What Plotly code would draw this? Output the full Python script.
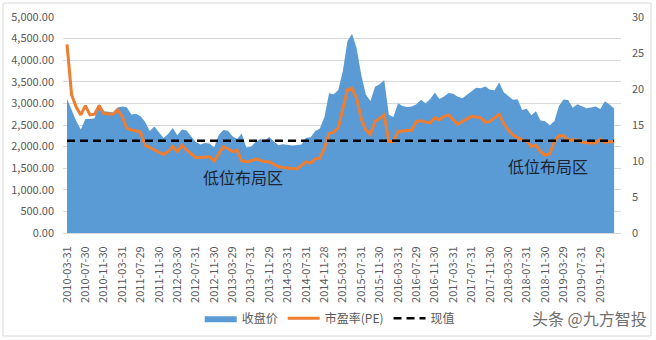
import numpy as np
import plotly.graph_objects as go

# Monthly closes, 2010-03 .. 2020-02
close_price = [
    3109, 2871, 2592, 2398, 2638, 2639, 2656, 2979, 2820, 2808,
    2791, 2905, 2928, 2912, 2743, 2762, 2702, 2567, 2359, 2468, 2333, 2199,
    2293, 2428, 2263, 2396, 2372, 2225, 2104, 2048, 2086, 2069, 1980, 2269,
    2385, 2366, 2237, 2178, 2301, 1979, 1994, 2098, 2175, 2142, 2221, 2116,
    2033, 2056, 2033, 2026, 2039, 2048, 2202, 2217, 2364, 2420, 2683, 3235,
    3210, 3310, 3748, 4442, 4612, 4277, 3664, 3206, 3053, 3383, 3445, 3539,
    2738, 2688, 3004, 2938, 2917, 2930, 2979, 3085, 3005, 3100, 3250, 3104,
    3159, 3242, 3223, 3155, 3117, 3192, 3273, 3361, 3349, 3393, 3317, 3307,
    3481, 3259, 3169, 3082, 3095, 2847, 2876, 2725, 2821, 2603, 2588, 2494,
    2585, 2941, 3091, 3078, 2899, 2979, 2933, 2886, 2905, 2929, 2872, 3050,
    2977, 2880,
]

# Price-to-earnings ratio for the same months
pe_ratio = [
    26.2, 19.2, 17.5, 16.4, 17.7, 16.4, 16.5, 17.7, 16.6, 16.6,
    16.5, 17.1, 16.2, 14.6, 14.3, 14.2, 14.0, 12.2, 11.9, 11.6, 11.2, 10.9,
    11.3, 12.0, 11.3, 12.2, 11.5, 11.0, 10.5, 10.5, 10.5, 10.6, 10.0, 11.0,
    12.0, 11.7, 11.3, 11.5, 10.0, 9.9, 10.0, 10.3, 10.1, 9.9, 9.9, 9.5,
    9.2, 9.1, 9.0, 8.9, 8.9, 9.4, 9.9, 9.7, 10.3, 10.4, 11.8, 13.8,
    14.0, 14.6, 17.3, 19.9, 20.1, 18.7, 15.9, 14.3, 13.7, 15.5, 15.9, 16.4,
    12.7, 12.7, 14.1, 14.2, 14.2, 14.3, 15.5, 15.6, 15.4, 15.3, 16.0, 15.7,
    16.2, 16.4, 15.7, 15.1, 15.5, 15.8, 16.2, 16.1, 16.0, 15.4, 15.5, 16.0,
    16.5, 15.2, 14.3, 13.6, 13.2, 12.9, 12.8, 12.0, 12.2, 11.3, 10.8, 11.0,
    12.7, 13.5, 13.5, 12.9, 12.9, 12.9, 12.6, 12.5, 12.5, 12.5, 13.0, 12.6,
    12.7, 12.7,
]

current_pe = 12.8

tick_labels = [
    "2010-03-31", "2010-07-30", "2010-11-30", "2011-03-31", "2011-07-29",
    "2011-11-30", "2012-03-30", "2012-07-31", "2012-11-30", "2013-03-29",
    "2013-07-31", "2013-11-29", "2014-03-31", "2014-07-31", "2014-11-28",
    "2015-03-31", "2015-07-31", "2015-11-30", "2016-03-31", "2016-07-29",
    "2016-11-30", "2017-03-31", "2017-07-31", "2017-11-30", "2018-03-30",
    "2018-07-31", "2018-11-30", "2019-03-29", "2019-07-31", "2019-11-29",
]
tick_step = 4

series_names = ["收盘价", "市盈率(PE)", "现值"]
zone_label = "低位布局区"

x = np.arange(len(close_price))
tick_pos = x[::tick_step][: len(tick_labels)]

FONT = "Noto Sans CJK SC, Noto Sans, sans-serif"
GREY = "#595959"

fig = go.Figure()

fig.add_trace(go.Scatter(
    x=x, y=close_price, name=series_names[0], mode="lines",
    fill="tozeroy", fillcolor="#5B9BD5",
    line=dict(width=0, color="#5B9BD5"),
    yaxis="y",
))
fig.add_trace(go.Scatter(
    x=x, y=pe_ratio, name=series_names[1], mode="lines",
    line=dict(width=3, color="#ED7D31"),
    yaxis="y2",
))
fig.add_trace(go.Scatter(
    x=x, y=[current_pe] * len(x), name=series_names[2], mode="lines",
    line=dict(width=2.5, color="#000000", dash="8px,5px"),
    yaxis="y2",
))

annotations = [
    dict(x=38.3, y=7.8, xref="x", yref="y2", text=zone_label, showarrow=False,
         font=dict(family=FONT, size=16, color="#1a2433")),
    dict(x=104.6, y=9.3, xref="x", yref="y2", text=zone_label, showarrow=False,
         font=dict(family=FONT, size=16, color="#1a2433")),
    dict(x=1.05, y=-0.395, xref="paper", yref="paper", text="头条 @九方智投",
         showarrow=False, xanchor="right", yanchor="middle",
         font=dict(family=FONT, size=16, color="#6e6e6e")),
]

fig.update_layout(
    width=656, height=340,
    margin=dict(l=63, r=35, t=17, b=107, autoexpand=False),
    paper_bgcolor="white", plot_bgcolor="white",
    font=dict(family=FONT, size=11, color=GREY),
    showlegend=True,
    legend=dict(
        orientation="h", x=0.478, y=-0.395, xanchor="center", yanchor="middle",
        font=dict(family=FONT, size=12, color=GREY), itemwidth=32,
        bgcolor="rgba(0,0,0,0)",
    ),
    xaxis=dict(
        range=[-0.87, 120.5], tickvals=tick_pos, ticktext=tick_labels,
        tickangle=-90, showgrid=False, zeroline=False,
        showline=True, linecolor="#D9D9D9", linewidth=1,
        ticks="", ticklabelstandoff=8, automargin=False,
        tickfont=dict(family=FONT, size=11, color=GREY),
    ),
    yaxis=dict(
        range=[0, 5000], dtick=500, tickformat=",.2f",
        showgrid=True, gridcolor="#D9D9D9", gridwidth=1, zeroline=False,
        ticks="", ticklabelstandoff=8, automargin=False,
        tickfont=dict(family=FONT, size=11, color=GREY),
    ),
    yaxis2=dict(
        range=[0, 30], dtick=5, overlaying="y", side="right",
        showgrid=False, zeroline=False, ticks="", ticklabelstandoff=10,
        automargin=False,
        tickfont=dict(family=FONT, size=11, color=GREY),
    ),
    annotations=annotations,
    shapes=[dict(type="rect", xref="paper", yref="paper",
                 x0=-0.1075, x1=1.0538, y0=-0.4769, y1=1.0648,
                 line=dict(color="#D9D9D9", width=1), layer="below")],
)

fig.write_html("out.html")
